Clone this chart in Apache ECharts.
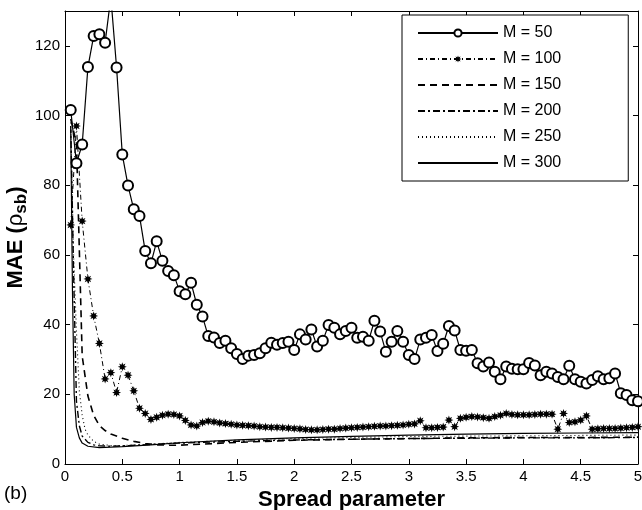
<!DOCTYPE html>
<html>
<head>
<meta charset="utf-8">
<script src="https://cdn.jsdelivr.net/npm/echarts@6/dist/echarts.min.js"></script>
<style>html,body{margin:0;padding:0;background:#fff}#c{width:642px;height:510px}</style>
</head>
<body>
<div id="c"></div>
<script>
// ---- data ----
const spread = [
0.05,0.1,0.15,0.2,0.25,0.3,0.35,0.4,0.45,0.5,
0.55,0.6,0.65,0.7,0.75,0.8,0.85,0.9,0.95,1.0,
1.05,1.1,1.15,1.2,1.25,1.3,1.35,1.4,1.45,1.5,
1.55,1.6,1.65,1.7,1.75,1.8,1.85,1.9,1.95,2.0,
2.05,2.1,2.15,2.2,2.25,2.3,2.35,2.4,2.45,2.5,
2.55,2.6,2.65,2.7,2.75,2.8,2.85,2.9,2.95,3.0,
3.05,3.1,3.15,3.2,3.25,3.3,3.35,3.4,3.45,3.5,
3.55,3.6,3.65,3.7,3.75,3.8,3.85,3.9,3.95,4.0,
4.05,4.1,4.15,4.2,4.25,4.3,4.35,4.4,4.45,4.5,
4.55,4.6,4.65,4.7,4.75,4.8,4.85,4.9,4.95,5.0];
const m50 = [
101.6,86.3,91.7,113.9,122.8,123.3,120.9,134,113.8,88.8,
79.9,73.1,71.2,61.1,57.6,63.9,58.3,55.4,54.2,49.6,
48.7,52,45.7,42.3,36.7,36.3,34.7,35.4,33.2,31.6,
30.1,31.1,31.3,31.8,33.2,34.8,34.2,34.7,35.1,32.7,
37.2,35.7,38.6,33.7,35.4,39.9,39.1,37.2,38.2,39.1,
36.2,36.5,35.4,41.1,38,32.2,35.1,38.2,35.1,31.3,
30.1,35.7,36.2,37,32.4,34.5,39.6,38.3,32.7,32.5,
32.7,28.9,28,29.1,26.5,24.3,28,27.3,27.2,27.2,
29,28.3,25.5,26.5,26,25,24.3,28.2,24.3,23.6,
23.1,24.1,25.2,24.3,24.6,26,20.3,19.8,18.3,18];
const m100 = [
68.6,97,69.7,53.1,42.5,34.6,24.4,26.2,20.5,27.9,
25.5,21,16,14.5,12.8,13.4,14,14.3,14.2,13.8,
12.5,11.2,10.9,11.9,12.3,12.1,11.8,11.6,11.4,11.2,
11.1,11,10.9,10.7,10.6,10.5,10.5,10.4,10.3,10.2,
10.1,9.9,9.8,9.8,9.9,10,10,10.2,10.3,10.4,
10.5,10.6,10.7,10.8,10.9,10.9,11,11.1,11.2,11.4,
11.5,12.4,10.4,10.4,10.5,10.6,12.6,10.7,13.1,13.4,
13.6,13.5,13.3,13.1,13.6,14,14.5,14.2,14.1,14.1,
14.1,14.2,14.3,14.3,14.3,10,14.5,11.9,12.1,12.6,
13.8,10,10.1,10.2,10.2,10.2,10.3,10.4,10.5,10.7];
const x150 = [0.05,0.1,0.15,0.2,0.25,0.3,0.35,0.4,0.5,0.6,0.7,0.8,0.9,1.0,1.5,2.0,2.5,3.0,3.5,4.0,4.5,5.0];
const m150 = [99,92,31,19.5,14,11,9.6,8.6,7.4,6.5,5.9,5.5,5.4,5.4,6.2,6.8,7.1,7.3,7.5,7.6,7.6,7.7];
const x200 = [0.05,0.075,0.1,0.125,0.15,0.2,0.25,0.3,0.4,0.5,0.75,1.0,1.5,2.0,2.5,3.0,3.5,4.0,4.5,5.0];
const m200 = [97,55,18,11,8,6.2,5.5,5.2,5.1,5.2,5.6,6,6.5,6.9,7.1,7.3,7.4,7.5,7.5,7.6];
const x250 = [0.05,0.075,0.1,0.125,0.15,0.175,0.2,0.25,0.3,0.4,0.5,0.75,1.0,1.5,2.0,2.5,3.0,3.5,4.0,4.5,5.0];
const m250 = [98,60,38,21,14,10,8.3,6.5,5.7,5.3,5.3,5.7,6.2,6.8,7.3,7.6,7.9,8.0,8.1,8.2,8.3];
const x300 = [0.05,0.065,0.08,0.1,0.125,0.15,0.2,0.3,0.5,0.75,1.0,1.5,2.0,2.5,3.0,3.5,4.0,4.5,5.0];
const m300 = [96,50,20,10.5,7.5,6,5.1,4.7,5.0,5.5,6.1,6.9,7.5,7.9,8.3,8.6,8.8,8.9,9.0];
const names = ['M = 50','M = 100','M = 150','M = 200','M = 250','M = 300'];
const xTicks = {min:0, max:5, interval:0.5};
const yTicks = {min:0, max:130, interval:20};

// ---- chart ----
const pair = (xs, ys) => xs.map((x, i) => [x, ys[i]]);
const star = 'path://M10,0L4.62,1.91L7.07,7.07L1.91,4.62L0,10L-1.91,4.62L-7.07,7.07L-4.62,1.91L-10,0L-4.62,-1.91L-7.07,-7.07L-1.91,-4.62L0,-10L1.91,-4.62L7.07,-7.07L4.62,-1.91Z';
const FONT = 'Liberation Sans';
const hidden = {color:'rgba(0,0,0,0)', borderColor:'rgba(0,0,0,0)', borderWidth:0};
const chart = echarts.init(document.getElementById('c'), null, {renderer:'canvas'});
const axisCommon = {
  axisLine:{show:true, onZero:false, lineStyle:{color:'#000', width:1}},
  axisTick:{show:true, inside:true, length:5, lineStyle:{color:'#000'}},
  splitLine:{show:false}
};
chart.setOption({
  animation:false,
  backgroundColor:'#fff',
  textStyle:{fontFamily:FONT},
  grid:{left:65, right:4, top:11, bottom:46, containLabel:false, outerBoundsMode:'none'},
  legend:{
    orient:'vertical', left:402, top:15,
    padding:[10,67,10,15], itemGap:10, itemWidth:80, itemHeight:9,
    backgroundColor:'#fff', borderColor:'#000', borderWidth:1,
    textStyle:{fontFamily:FONT, fontSize:16, color:'#000', lineHeight:16},
    data:[
      {name:names[0]},
      {name:names[1]},
      {name:names[2], itemStyle:hidden},
      {name:names[3], itemStyle:hidden},
      {name:names[4], itemStyle:hidden},
      {name:names[5], itemStyle:hidden}
    ]
  },
  xAxis:[
    Object.assign({type:'value', position:'bottom'}, xTicks, axisCommon, {
      axisLabel:{color:'#000', fontSize:15, fontFamily:FONT, margin:5},
      name:'Spread parameter', nameLocation:'middle', nameGap:22,
      nameTextStyle:{fontFamily:FONT, fontSize:22, fontWeight:'bold', color:'#000'}
    }),
    Object.assign({type:'value', position:'top'}, xTicks, axisCommon, {axisLabel:{show:false}})
  ],
  yAxis:[
    Object.assign({type:'value', position:'left'}, yTicks, axisCommon, {
      axisLabel:{color:'#000', fontSize:15, fontFamily:FONT, margin:5,
        formatter: v => (v % 20 === 0 ? String(v) : '')},
      name:'{b|MAE (}{r|ρ}{s|sb}{b|)}', nameLocation:'middle', nameGap:35, nameRotate:90,
      nameMoveOverlap:false,
      nameTextStyle:{
        color:'#000',
        rich:{
          b:{fontFamily:FONT, fontSize:22, fontWeight:'bold', color:'#000', lineHeight:29, verticalAlign:'middle'},
          r:{fontFamily:FONT, fontSize:22, color:'#000', lineHeight:29, verticalAlign:'middle'},
          s:{fontFamily:FONT, fontSize:17, fontWeight:'bold', color:'#000', lineHeight:17, verticalAlign:'bottom'}
        }
      }
    }),
    Object.assign({type:'value', position:'right'}, yTicks, axisCommon, {axisLabel:{show:false}})
  ],
  graphic:[{type:'text', left:4, top:484, style:{text:'(b)', fontFamily:FONT, fontSize:19, fill:'#000'}}],
  series:[
    {name:names[0], type:'line', data:pair(spread, m50), symbol:'emptyCircle', symbolSize:10, clip:true,
     lineStyle:{color:'#000', width:1.2}, itemStyle:{color:'#000', borderColor:'#000', borderWidth:1.4}, z:6},
    {name:names[1], type:'line', data:pair(spread, m100), symbol:star, symbolSize:9, clip:true,
     lineStyle:{color:'#000', width:1, type:[5,3,1,3]}, itemStyle:{color:'#000'}, z:5},
    {name:names[2], type:'line', data:pair(x150, m150), symbol:'none', clip:true,
     lineStyle:{color:'#000', width:1.6, type:[7,5]}, itemStyle:{color:'#000'}},
    {name:names[3], type:'line', data:pair(x200, m200), symbol:'none', clip:true,
     lineStyle:{color:'#000', width:1.4, type:[7,3,2,3]}, itemStyle:{color:'#000'}},
    {name:names[4], type:'line', data:pair(x250, m250), symbol:'none', clip:true,
     lineStyle:{color:'#000', width:1.1, type:[1,3]}, itemStyle:{color:'#000'}},
    {name:names[5], type:'line', data:pair(x300, m300), symbol:'none', clip:true,
     lineStyle:{color:'#000', width:1.2}, itemStyle:{color:'#000'}}
  ]
});
</script>
</body>
</html>
